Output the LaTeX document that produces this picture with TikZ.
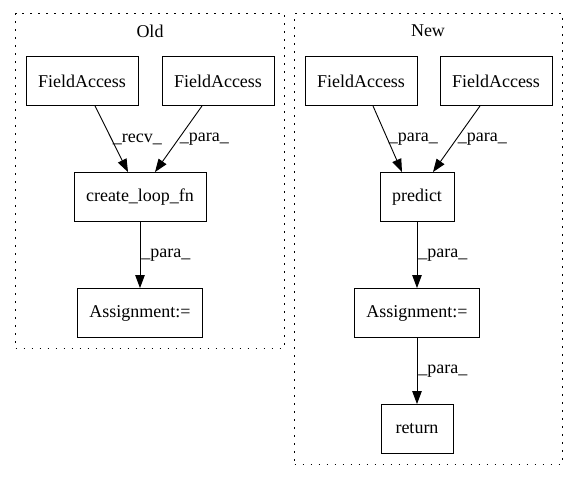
\documentclass[tikz,border=0pt]{standalone}
\usepackage{fontspec}
\setmainfont{Liberation Serif}
\usetikzlibrary{arrows.meta,positioning,fit}

\begin{document}
\begin{tikzpicture}[x=1pt,y=-1pt,>={Triangle[length=13pt,width=9.5pt]},
                    node distance=116pt,on grid,line width=0.9pt,
                    font=\fontsize{18}{21}\selectfont]
    \tikzset{
      box/.style={
        draw,
        rectangle,
        minimum width=72pt,
        minimum height=49pt,
        inner xsep=12pt
      },
      cluster/.style={
        draw,
        dash pattern=on 1.5pt off 6.5pt,
        inner sep=10pt
      },
      title/.style={
        inner sep=0pt,
        minimum height=14pt
      },
      elabel/.style={
        midway,
        right,
        inner sep=1pt
      }
    }
    \useasboundingbox (0,0) rectangle (579,480);

    % Old version
    \node [title] (oldtitle) at (150,31)  {Old};
    \node [box] (oldfa1)     at (82,81)   {FieldAccess};
    \node [box] (oldfa2)     at (218,81)  {FieldAccess};
    \node [box] (oldcall)    at (140,197) {create\_loop\_fn};
    \node [box] (oldassign)  [below=of oldcall] {Assignment:=};

    \node [cluster, fit=(oldtitle)(oldfa1)(oldfa2)(oldassign)] (oldgroup) {};

    \path [->]
        ([xshift=13pt]oldfa1.south)  edge node [elabel] {\_recv\_} ([xshift=-12pt]oldcall.north)
        ([xshift=-16pt]oldfa2.south) edge node [elabel] {\_para\_} ([xshift=15pt]oldcall.north)
        (oldcall)                    edge node [elabel] {\_para\_} (oldassign);

    % New version
    \node [title] (newtitle) at (428,31)  {New};
    \node [box] (newfa1)     at (361,81)  {FieldAccess};
    \node [box] (newfa2)     at (496,81)  {FieldAccess};
    \node [box] (predict)    at (417,197) {predict};
    \node [box] (newassign)  [below=of predict]   {Assignment:=};
    \node [box] (ret)        [below=of newassign] {return};

    \node [cluster, fit=(newtitle)(newfa1)(newfa2)(ret)] (newgroup) {};

    \path [->]
        ([xshift=12pt]newfa1.south)  edge node [elabel] {\_para\_} ([xshift=-15pt]predict.north)
        ([xshift=-16pt]newfa2.south) edge node [elabel] {\_para\_} ([xshift=16pt]predict.north)
        (predict)                    edge node [elabel] {\_para\_} (newassign)
        (newassign)                  edge node [elabel] {\_para\_} (ret);
\end{tikzpicture}
\end{document}
